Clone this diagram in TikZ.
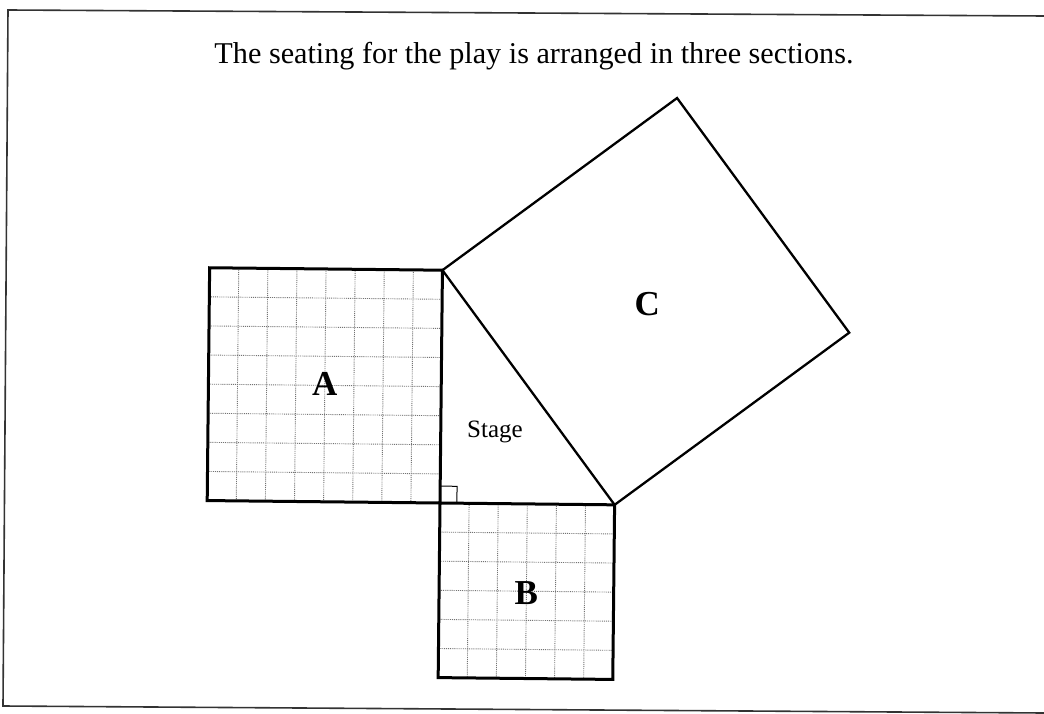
\documentclass[tikz,border=0pt]{standalone}
\usepackage{fontspec}
\setmainfont{Liberation Serif}
\begin{document}
\begin{tikzpicture}[x=1pt,y=-1pt,
  frameline/.style={line width=1.6pt, black!80},
  seat/.style={line width=3pt, line join=miter},
  plain/.style={line width=2.3pt, line join=miter},
  gridline/.style={densely dotted, line width=0.9pt, black!55},
  lab/.style={font=\fontsize{35}{40}\selectfont\bfseries},
]
\useasboundingbox (0,0) rectangle (1044,714);
\fill[white] (0,0) rectangle (1044,714);
% page frame
\coordinate (ftl) at (8,10);
\coordinate (ftr) at (1044,16);
\coordinate (fbl) at (3,706);
\coordinate (fbr) at (1044,713);
\draw[frameline] (ftr) -- (ftl) -- (fbl) -- (fbr);
% title
\node[font=\fontsize{30.2}{36}\selectfont, anchor=base] (title) at (534,64)
  {The seating for the play is arranged in three sections.};
\begin{scope}[shift={(440,503)}, x={(29.1pt,-0.305pt)}, y={(0.305pt,29.1pt)}]
  % grid of section A (8 x 8)
  \foreach \i in {1,...,7} {
    \draw[gridline] (-\i,0) -- (-\i,8);
    \draw[gridline] (-8,\i) -- (0,\i);
  }
  % grid of section B (6 x 6)
  \foreach \i in {1,...,5} {
    \draw[gridline] (\i,0) -- (\i,-6);
    \draw[gridline] (0,-\i) -- (6,-\i);
  }
  \coordinate (R) at (0,0);
  \coordinate (P) at (0,8);
  \coordinate (Q) at (6,0);
  % section A
  \draw[seat] (-8,0) -- (R) -- (P) -- (-8,8) -- cycle;
  % section B
  \draw[seat] (R) -- (Q) -- (6,-6) -- (0,-6) -- cycle;
  % section C
  \draw[plain] (P) -- (8,14) -- (14,6) -- (Q) -- cycle;
  % right angle mark
  \draw[line width=1pt] (0,0.58) -- (0.58,0.58) -- (0.58,0);
  \node[lab] (A) at (-4,4.05) {A};
  \node[lab] (B) at (3,-3.05) {B};
  \node[lab] (C) at (7.05,6.9) {C};
\end{scope}
\node[font=\fontsize{25}{30}\selectfont] (stage) at (495,432) {Stage};
\end{tikzpicture}
\end{document}
